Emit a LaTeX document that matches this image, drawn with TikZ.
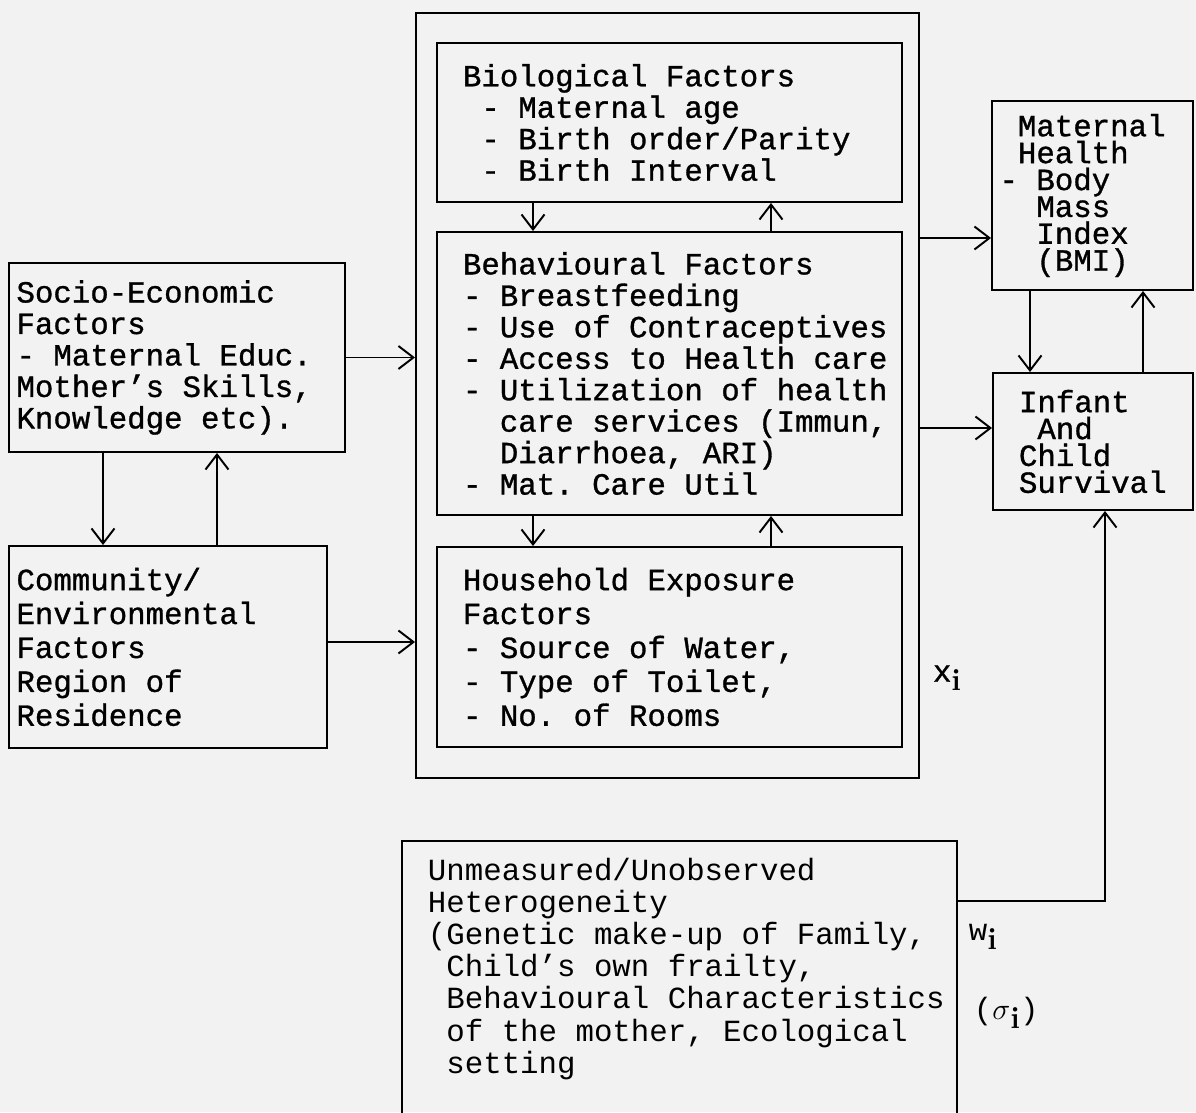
\documentclass[tikz,border=0pt]{standalone}
\usepackage{fontspec}
\setmonofont{Liberation Mono}
\newfontfamily\heavymono{Liberation Mono}[FakeBold=1]
\usetikzlibrary{arrows.meta,calc}

\newcommand{\pad}{\hphantom{x}}
\newcommand{\typed}[1]{\fontsize{17.5pt}{#1}\selectfont\frenchspacing}
\newcommand{\idx}{\raisebox{-0.55ex}{\rmfamily\bfseries i}}

\begin{document}
\begin{tikzpicture}[
    font=\heavymono\typed{17.9pt},
    line width=1.1pt,
    >={Straight Barb[length=3mm,width=4.6mm]},
    factor/.style={
        draw,
        align=flush left,
        inner xsep=1.5mm,
        inner ysep=1mm
    },
    tightLead/.style={
        font=\heavymono\typed{15.3pt}
    },
    wideLead/.style={
        font=\heavymono\typed{19.3pt}
    },
    plainLead/.style={
        font=\ttfamily\typed{18.3pt}
    },
    outer/.style={
        draw,
        inner sep=0pt
    },
    rel/.style={
        ->
    },
    sideLabel/.style={
        inner sep=0pt,
        anchor=west
    }
]

% page
\fill[black!5] (0,0) rectangle (23.92,22.24);
\useasboundingbox (0,0) rectangle (23.92,22.24);

% Left column
\node[factor, text width=6.42cm, minimum height=3.78cm] (socio) at (3.54,15.09) {
    Socio-Economic\\
    Factors\\
    - Maternal Educ.\\
    Mother’s Skills,\\
    Knowledge etc).
};

\node[factor, wideLead, text width=6.06cm, minimum height=4.04cm] (community) at (3.36,9.3) {
    Community/\\
    Environmental\\
    Factors\\
    Region of\\
    Residence
};

% Centre column
\node[outer, minimum width=10.06cm, minimum height=15.3cm] (frame) at (13.35,14.33) {};

\node[factor, text width=9cm, minimum height=3.18cm] (bio) at (13.39,19.79) {
    \pad Biological Factors\\
    \pad\pad- Maternal age\\
    \pad\pad- Birth order/Parity\\
    \pad\pad- Birth Interval
};

\node[factor, text width=9cm, minimum height=5.66cm] (behav) at (13.39,14.77) {
    \pad Behavioural Factors\\
    \pad- Breastfeeding\\
    \pad- Use of Contraceptives\\
    \pad- Access to Health care\\
    \pad- Utilization of health\\
    \pad\pad\pad care services (Immun,\\
    \pad\pad\pad Diarrhoea, ARI)\\
    \pad- Mat. Care Util
};

\node[factor, wideLead, text width=9cm, minimum height=4cm] (house) at (13.39,9.3) {
    \pad Household Exposure\\
    \pad Factors\\
    \pad- Source of Water,\\
    \pad- Type of Toilet,\\
    \pad- No. of Rooms
};

% Right column
\node[factor, tightLead, text width=3.72cm, minimum height=3.78cm] (health) at (21.85,18.33) {
    \pad Maternal\\
    \pad Health\\
    - Body\\
    \pad\pad Mass\\
    \pad\pad Index\\
    \pad\pad (BMI)
};

\node[factor, tightLead, text width=3.7cm, minimum height=2.74cm] (infant) at (21.86,13.41) {
    \pad Infant\\
    \pad\pad And\\
    \pad Child\\
    \pad Survival
};

% Bottom
\node[factor, plainLead, inner ysep=3.4mm, text width=10.8cm, anchor=north] (unmeasured) at (13.59,5.44) {
    \pad Unmeasured/Unobserved\\
    \pad Heterogeneity\\
    \pad(Genetic make-up of Family,\\
    \pad\pad Child’s own frailty,\\
    \pad\pad Behavioural Characteristics\\
    \pad\pad of the mother, Ecological\\
    \pad\pad setting\\[1.5cm]
    \mbox{}
};

% Labels
\node[sideLabel] (xLabel) at (18.64,8.68) {x\idx};
\node[sideLabel, plainLead] (wLabel) at (19.36,3.5) {w\idx};
\node[sideLabel, plainLead] (sigmaLabel) at (19.46,1.98) {(\(\sigma\)\idx)};

% Left arrows
\coordinate (socioDown) at ($(socio.south)+(-1.48,0)$);
\coordinate (socioUp) at ($(socio.south)+(0.8,0)$);
\coordinate (communityOut) at ($(community.east)+(0,0.1)$);

\draw[rel] (socio.east) -- (socio.east -| frame.west);
\draw[rel] (communityOut) -- (communityOut -| frame.west);
\draw[rel] (socioDown) -- (socioDown |- community.north);
\draw[rel] (socioUp |- community.north) -- (socioUp);

% Inside the frame
\coordinate (bioDown) at ($(bio.south)+(-2.73,0)$);
\coordinate (bioUp) at ($(bio.south)+(2.03,0)$);
\coordinate (behavDown) at ($(behav.south)+(-2.73,0)$);
\coordinate (behavUp) at ($(behav.south)+(2.03,0)$);

\draw[rel] (bioDown) -- (bioDown |- behav.north);
\draw[rel] (bioUp |- behav.north) -- (bioUp);
\draw[rel] (behavDown) -- (behavDown |- house.north);
\draw[rel] (behavUp |- house.north) -- (behavUp);

% Right arrows
\coordinate (healthIn) at ($(health.west)+(0,-0.85)$);
\coordinate (infantIn) at ($(infant.west)+(0,0.27)$);
\coordinate (healthDown) at ($(health.south)+(-1.25,0)$);
\coordinate (healthUp) at ($(health.south)+(1.01,0)$);

\draw[rel] (healthIn -| frame.east) -- (healthIn);
\draw[rel] (infantIn -| frame.east) -- (infantIn);
\draw[rel] (healthDown) -- (healthDown |- infant.north);
\draw[rel] (healthUp |- infant.north) -- (healthUp);

% Heterogeneity to survival
\coordinate (hetOut) at ($(unmeasured.north east)+(0,-1.22)$);
\coordinate (survivalIn) at ($(infant.south)+(0.24,0)$);

\draw[rel] (hetOut) -| (survivalIn);

\end{tikzpicture}
\end{document}
